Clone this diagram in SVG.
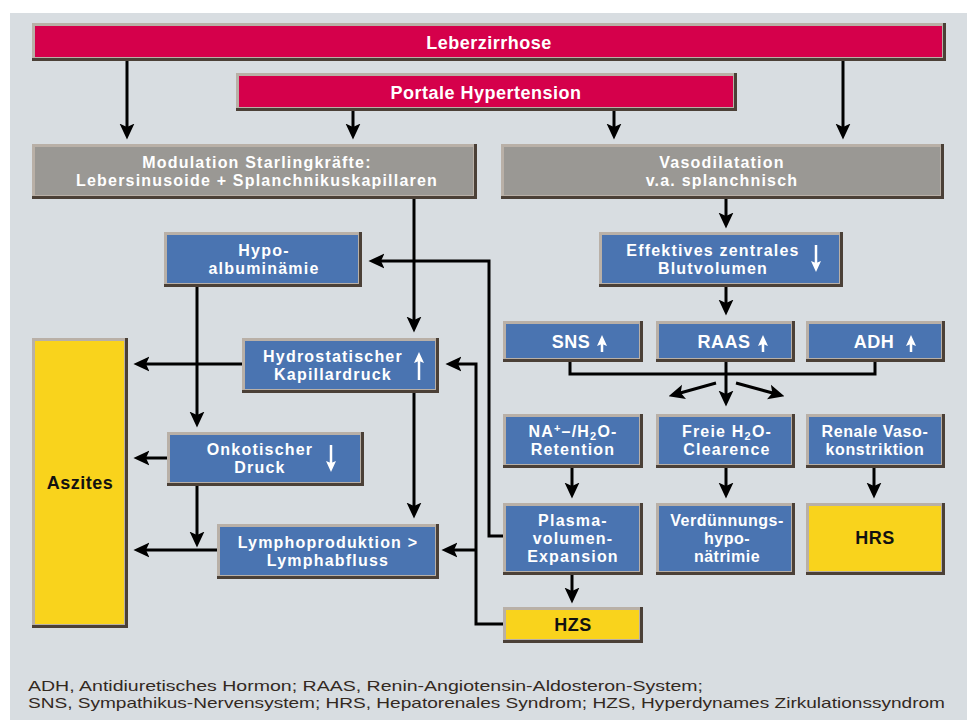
<svg xmlns="http://www.w3.org/2000/svg" width="967" height="720" viewBox="0 0 967 720">
<defs>
<style>
.sh{fill:#4b4037}
.hl{fill:#b9b0a7}
.red{fill:#d5004b}
.gray{fill:#9a9894}
.blue{fill:#4a74b1}
.yel{fill:#f9d31c}
.t{font-family:"Liberation Sans",Arial,sans-serif;font-weight:bold;font-size:16px;fill:#ffffff;text-anchor:middle;letter-spacing:1.2px}
.t1{font-size:18px;letter-spacing:0.5px}
.tb{fill:#111111}
.c{fill:none;stroke:#000;stroke-width:3}
.ca{fill:none;stroke:#000;stroke-width:3;marker-end:url(#ah)}
.ic{fill:none;stroke:#fff;stroke-width:2.5;marker-end:url(#wa)}
.leg{font-family:"Liberation Sans",Arial,sans-serif;font-size:15px;fill:#33291f}
</style>
<marker id="ah" markerUnits="userSpaceOnUse" markerWidth="16" markerHeight="16" viewBox="0 0 14 14" refX="10" refY="7" orient="auto">
<path d="M0,0.5 L14,7 L0,13.5 L3,7 z" fill="#000"/>
</marker>
<marker id="wa" markerUnits="userSpaceOnUse" markerWidth="11" markerHeight="11" viewBox="0 0 11 11" refX="6" refY="5.5" orient="auto">
<path d="M0,0.5 L11,5.5 L0,10.5 L2,5.5 z" fill="#fff"/>
</marker>
</defs>
<rect x="10" y="13" width="957" height="707" fill="#d8dde1"/>

<g id="n-leberzirrhose">
<rect class="sh" x="32" y="23" width="914" height="38"/><rect class="hl" x="32" y="23" width="911" height="35"/><rect class="red" x="35" y="26" width="907" height="31"/>
<text class="t t1" x="489" y="49">Leberzirrhose</text>
</g>
<g id="n-portale">
<rect class="sh" x="236" y="73" width="501" height="38"/><rect class="hl" x="236" y="73" width="498" height="35"/><rect class="red" x="239" y="76" width="494" height="31"/>
<text class="t t1" x="486" y="99">Portale Hypertension</text>
</g>
<g id="n-modulation">
<rect class="sh" x="32" y="144" width="445" height="55"/><rect class="hl" x="32" y="144" width="442" height="52"/><rect class="gray" x="35" y="147" width="438" height="48"/>
<text class="t" x="257" y="168">Modulation Starlingkräfte:<tspan x="257" dy="18">Lebersinusoide + Splanchnikuskapillaren</tspan></text>
</g>
<g id="n-vasodilatation">
<rect class="sh" x="501" y="144" width="443" height="55"/><rect class="hl" x="501" y="144" width="440" height="52"/><rect class="gray" x="504" y="147" width="436" height="48"/>
<text class="t" x="722" y="168">Vasodilatation<tspan x="722" dy="18">v.a. splanchnisch</tspan></text>
</g>
<g id="n-hypoalbuminaemie">
<rect class="sh" x="164" y="232" width="198" height="55"/><rect class="hl" x="164" y="232" width="195" height="52"/><rect class="blue" x="167" y="235" width="191" height="48"/>
<text class="t" x="264" y="256">Hypo-<tspan x="264" dy="18">albuminämie</tspan></text>
</g>
<g id="n-effektives">
<rect class="sh" x="599" y="232" width="244" height="55"/><rect class="hl" x="599" y="232" width="241" height="52"/><rect class="blue" x="602" y="235" width="237" height="48"/>
<text class="t" x="713" y="256">Effektives zentrales<tspan x="713" dy="18">Blutvolumen</tspan></text>
<line class="ic" x1="816" y1="245" x2="816" y2="267"/>
</g>
<g id="n-sns">
<rect class="sh" x="503" y="321" width="140" height="41"/><rect class="hl" x="503" y="321" width="137" height="38"/><rect class="blue" x="506" y="324" width="133" height="34"/>
<text class="t t1" x="571" y="348">SNS</text>
<line class="ic" x1="602" y1="352" x2="602" y2="340"/>
</g>
<g id="n-raas">
<rect class="sh" x="656" y="321" width="139" height="41"/><rect class="hl" x="656" y="321" width="136" height="38"/><rect class="blue" x="659" y="324" width="132" height="34"/>
<text class="t t1" x="724" y="348">RAAS</text>
<line class="ic" x1="763" y1="352" x2="763" y2="340"/>
</g>
<g id="n-adh">
<rect class="sh" x="806" y="321" width="139" height="41"/><rect class="hl" x="806" y="321" width="136" height="38"/><rect class="blue" x="809" y="324" width="132" height="34"/>
<text class="t t1" x="874" y="348">ADH</text>
<line class="ic" x1="911" y1="352" x2="911" y2="340"/>
</g>
<g id="n-aszites">
<rect class="sh" x="32" y="338" width="96" height="290"/><rect class="hl" x="32" y="338" width="93" height="287"/><rect class="yel" x="35" y="341" width="89" height="283"/>
<text class="t t1 tb" x="80" y="489">Aszites</text>
</g>
<g id="n-hydrostatischer">
<rect class="sh" x="242" y="338" width="197" height="55"/><rect class="hl" x="242" y="338" width="194" height="52"/><rect class="blue" x="245" y="341" width="190" height="48"/>
<text class="t" x="333" y="362">Hydrostatischer<tspan x="333" dy="18">Kapillardruck</tspan></text>
<line class="ic" x1="419" y1="380" x2="419" y2="357"/>
</g>
<g id="n-onkotischer">
<rect class="sh" x="167" y="432" width="197" height="54"/><rect class="hl" x="167" y="432" width="194" height="51"/><rect class="blue" x="170" y="435" width="190" height="47"/>
<text class="t" x="260" y="455">Onkotischer<tspan x="260" dy="18">Druck</tspan></text>
<line class="ic" x1="331" y1="445" x2="331" y2="467"/>
</g>
<g id="n-na-retention">
<rect class="sh" x="503" y="414" width="140" height="54"/><rect class="hl" x="503" y="414" width="137" height="51"/><rect class="blue" x="506" y="417" width="133" height="47"/>
<text class="t" x="573" y="437">NA<tspan font-size="11" dy="-5">+</tspan><tspan dy="5">–/H</tspan><tspan font-size="11" dy="3">2</tspan><tspan dy="-3">O-</tspan><tspan x="573" dy="18">Retention</tspan></text>
</g>
<g id="n-freie">
<rect class="sh" x="656" y="414" width="139" height="54"/><rect class="hl" x="656" y="414" width="136" height="51"/><rect class="blue" x="659" y="417" width="132" height="47"/>
<text class="t" x="727" y="437">Freie H<tspan font-size="11" dy="3">2</tspan><tspan dy="-3">O-</tspan><tspan x="727" dy="18">Clearence</tspan></text>
</g>
<g id="n-renale">
<rect class="sh" x="806" y="414" width="139" height="54"/><rect class="hl" x="806" y="414" width="136" height="51"/><rect class="blue" x="809" y="417" width="132" height="47"/>
<text class="t" x="875" y="437" style="letter-spacing:0.6px">Renale Vaso-<tspan x="875" dy="18">konstriktion</tspan></text>
</g>
<g id="n-plasma">
<rect class="sh" x="503" y="503" width="140" height="72"/><rect class="hl" x="503" y="503" width="137" height="69"/><rect class="blue" x="506" y="506" width="133" height="65"/>
<text class="t" x="573" y="526">Plasma-<tspan x="573" dy="18">volumen-</tspan><tspan x="573" dy="18">Expansion</tspan></text>
</g>
<g id="n-verduennung">
<rect class="sh" x="656" y="503" width="139" height="72"/><rect class="hl" x="656" y="503" width="136" height="69"/><rect class="blue" x="659" y="506" width="132" height="65"/>
<text class="t" x="727" y="526" style="letter-spacing:0.5px">Verdünnungs-<tspan x="727" dy="18">hypo-</tspan><tspan x="727" dy="18">nätrimie</tspan></text>
</g>
<g id="n-hrs">
<rect class="sh" x="806" y="503" width="139" height="72"/><rect class="hl" x="806" y="503" width="136" height="69"/><rect class="yel" x="809" y="506" width="132" height="65"/>
<text class="t t1 tb" x="875" y="544">HRS</text>
</g>
<g id="n-lympho">
<rect class="sh" x="217" y="524" width="222" height="55"/><rect class="hl" x="217" y="524" width="219" height="52"/><rect class="blue" x="220" y="527" width="215" height="48"/>
<text class="t" x="328" y="548">Lymphoproduktion &gt;<tspan x="328" dy="18">Lymphabfluss</tspan></text>
</g>
<g id="n-hzs">
<rect class="sh" x="503" y="607" width="140" height="36"/><rect class="hl" x="503" y="607" width="137" height="33"/><rect class="yel" x="506" y="610" width="133" height="29"/>
<text class="t t1 tb" x="573" y="631">HZS</text>
</g>

<g id="connectors">
<line class="ca" x1="127" y1="61" x2="127" y2="135"/>
<line class="ca" x1="353" y1="111" x2="353" y2="135"/>
<line class="ca" x1="614" y1="111" x2="614" y2="135"/>
<line class="ca" x1="843" y1="61" x2="843" y2="135"/>
<line class="ca" x1="414" y1="199" x2="414" y2="328"/>
<line class="ca" x1="726" y1="199" x2="726" y2="224"/>
<line class="ca" x1="726" y1="287" x2="726" y2="311"/>
<path class="c" d="M570 362 V374 H875 V362"/>
<line class="ca" x1="726" y1="362" x2="726" y2="402"/>
<line class="ca" x1="716" y1="383" x2="673" y2="395"/>
<line class="ca" x1="736" y1="383" x2="780" y2="395"/>
<line class="ca" x1="572" y1="468" x2="572" y2="494"/>
<line class="ca" x1="726" y1="468" x2="726" y2="494"/>
<line class="ca" x1="874" y1="468" x2="874" y2="494"/>
<line class="ca" x1="572" y1="575" x2="572" y2="599"/>
<path class="ca" d="M503 536 H489 V261 H373"/>
<path class="ca" d="M503 624 H476 V364 H450"/>
<path class="ca" d="M476 550 H446"/>
<line class="ca" x1="197" y1="287" x2="197" y2="423"/>
<line class="ca" x1="197" y1="486" x2="197" y2="543"/>
<line class="ca" x1="414" y1="393" x2="414" y2="514"/>
<path class="ca" d="M242 364 H138"/>
<path class="ca" d="M167 458 H138"/>
<path class="ca" d="M217 550 H138"/>
</g>

<text class="leg" x="28" y="691" textLength="675" lengthAdjust="spacingAndGlyphs">ADH, Antidiuretisches Hormon; RAAS, Renin-Angiotensin-Aldosteron-System;</text>
<text class="leg" x="28" y="708" textLength="917" lengthAdjust="spacingAndGlyphs">SNS, Sympathikus-Nervensystem; HRS, Hepatorenales Syndrom; HZS, Hyperdynames Zirkulationssyndrom</text>
</svg>
